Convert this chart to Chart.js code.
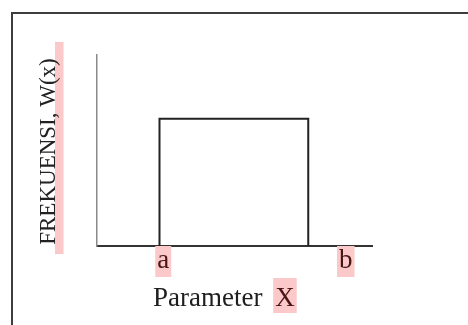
<!DOCTYPE html>
<html>
<head>
<meta charset="utf-8">
<script src="https://cdn.jsdelivr.net/npm/chart.js@4/dist/chart.umd.min.js"></script>
<style>
  html, body { margin: 0; padding: 0; background: #fff; overflow: hidden; }
  #frame {
    position: absolute;
    left: 11px;
    top: 12px;
    width: 1000px;
    height: 1000px;
    border-left: 2px solid #3d3d3d;
    border-top: 2px solid #3d3d3d;
  }
  #wrap { position: absolute; left: 0; top: 0; width: 468px; height: 325px; }
</style>
</head>
<body>
<div id="frame"></div>
<div id="wrap"><canvas id="chart" width="468" height="325"></canvas></div>
<script>
const tickValues = [2.65, 9.95];
const tickLabels = ['a', 'b'];
const pulseX = [2.5, 2.5, 8.45, 8.45];
const pulseY = [0, 1, 1, 0];

const xTitle = 'Parameter';
const xTitleMark = 'X';
const yTitle = 'FREKUENSI, W(x)';

const pink = '#fbc9c9';
const serif = "'Liberation Serif', 'Times New Roman', serif";

const titlePlugin = {
  id: 'titles',
  afterDraw: (chart) => {
    const { ctx, chartArea } = chart;
    ctx.save();

    // y title, rotated, with the pink band on its lower side
    const yMid = (chartArea.top + chartArea.bottom) / 2 + 1;
    ctx.fillStyle = pink;
    ctx.fillRect(55, 42, 8.5, 212);
    ctx.translate(55, yMid);
    ctx.rotate(-Math.PI / 2);
    ctx.font = `23px ${serif}`;
    ctx.fillStyle = '#222';
    ctx.textAlign = 'center';
    ctx.textBaseline = 'alphabetic';
    ctx.fillText(yTitle, 0, 0);
    ctx.restore();

    // x title
    ctx.save();
    ctx.font = `27px ${serif}`;
    ctx.textBaseline = 'alphabetic';
    ctx.textAlign = 'left';
    const left = chartArea.left + 56;
    const base = chartArea.bottom + 60;
    ctx.fillStyle = '#1e1e1e';
    ctx.fillText(xTitle, left, base);
    const markX = left + ctx.measureText(xTitle + ' ').width + 6;
    const markW = ctx.measureText(xTitleMark).width;
    ctx.fillStyle = pink;
    ctx.fillRect(markX - 2, base - 28, markW + 4, 35);
    ctx.fillStyle = '#4a1414';
    ctx.fillText(xTitleMark, markX, base);
    ctx.restore();
  }
};

new Chart(document.getElementById('chart'), {
  type: 'line',
  data: {
    datasets: [
      {
        data: pulseX.map((x, index) => ({ x, y: pulseY[index] })),
        borderColor: '#222',
        borderWidth: 2,
        pointRadius: 0,
        fill: false,
        tension: 0,
        clip: false
      }
    ]
  },
  options: {
    responsive: false,
    animation: false,
    events: [],
    layout: {
      padding: { top: 55, right: 96, left: 0, bottom: 0 }
    },
    plugins: {
      legend: { display: false },
      tooltip: { enabled: false }
    },
    scales: {
      x: {
        type: 'linear',
        min: 0,
        max: 11,
        afterFit: (scale) => { scale.height = 79; },
        afterBuildTicks: (scale) => {
          scale.ticks = tickValues.map((value) => ({ value }));
        },
        grid: { display: false, drawTicks: false },
        border: { display: true, color: '#333', width: 2 },
        ticks: {
          autoSkip: false,
          maxRotation: 0,
          padding: 1,
          color: '#4a1414',
          font: { family: serif, size: 27, lineHeight: 1 },
          showLabelBackdrop: true,
          backdropColor: pink,
          backdropPadding: { left: 2, right: 2, top: 1, bottom: 3 },
          callback: (value) => {
            const index = tickValues.indexOf(value);
            return index >= 0 ? tickLabels[index] : '';
          }
        }
      },
      y: {
        type: 'linear',
        min: 0,
        max: 1.5,
        afterFit: (scale) => { scale.width = 97; },
        grid: { display: false, drawTicks: false },
        border: { display: true, color: '#8a8a8a', width: 1.5 },
        ticks: { display: false }
      }
    }
  },
  plugins: [titlePlugin]
});
</script>
</body>
</html>
